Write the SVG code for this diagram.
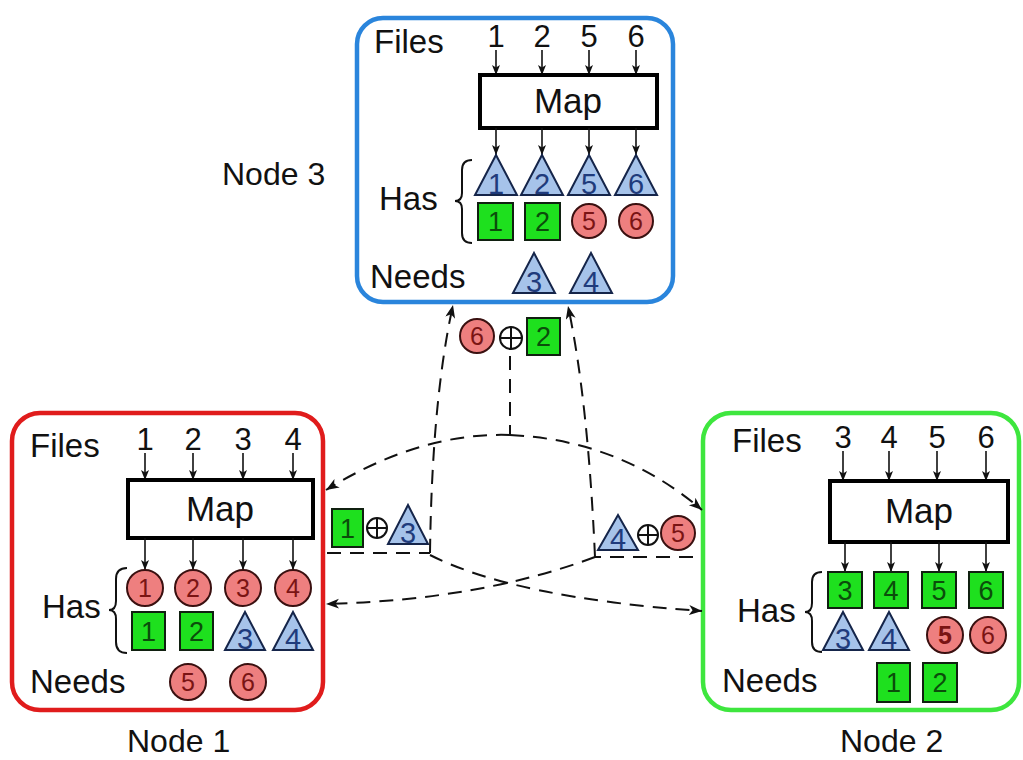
<svg xmlns="http://www.w3.org/2000/svg" width="1023" height="760" viewBox="0 0 1023 760">
  <style>
    text { font-family: "Liberation Sans", Arial, sans-serif; fill: #111; }
    .lbl { font-size: 33px; }
    .num { font-size: 31px; }
    .map { font-size: 35px; text-anchor: middle; }
    .cap { font-size: 32px; }
    .frame { fill: #fff; stroke-width: 4.5; }
    .mapbox { fill: #fff; stroke: #000; stroke-width: 4; }
    .feed { stroke: #111; stroke-width: 1.6; fill: none; marker-end: url(#tip); }
    .brace { stroke: #111; stroke-width: 2; fill: none; }
    .circ { fill: #ee7f7f; stroke: #3a1010; stroke-width: 2; }
    .circ-t { font-size: 25px; text-anchor: middle; fill: #7a1414; }
    .sq { fill: #1ee01e; stroke: #102010; stroke-width: 2; }
    .sq-t { font-size: 27px; text-anchor: middle; fill: #0b4d0b; }
    .tri { fill: #a6c3ea; stroke: #15254a; stroke-width: 2; }
    .tri-t { font-size: 29px; text-anchor: middle; fill: #1f3b7c; }
    .xor { fill: #fff; stroke: #111; stroke-width: 2; }
    .dash { stroke: #111; stroke-width: 2; fill: none; stroke-dasharray: 14 9; }
    .dash-a { stroke: #111; stroke-width: 2; fill: none; stroke-dasharray: 14 9; marker-end: url(#head); }
  </style>
  <defs>
    <marker id="tip" markerUnits="userSpaceOnUse" markerWidth="12" markerHeight="10" refX="10" refY="4" orient="auto">
      <path d="M0,0 L10,4 L0,8 L2.5,4 z" fill="#111" stroke="none"/>
    </marker>
    <marker id="head" markerUnits="userSpaceOnUse" markerWidth="16" markerHeight="12" refX="13" refY="5" orient="auto">
      <path d="M0,0 L13,5 L0,10 L3.5,5 z" fill="#111" stroke="none"/>
    </marker>
  </defs>

  <!-- Node 3 -->
  <g id="node3">
    <rect class="frame" x="357" y="18" width="316" height="284" rx="26" stroke="#2a85dc"/>
    <text class="cap" x="222" y="185">Node 3</text>
    <text class="lbl" x="374" y="53">Files</text>
    <g class="num" text-anchor="middle">
      <text x="496" y="47">1</text><text x="542" y="47">2</text><text x="589" y="47">5</text><text x="636" y="47">6</text>
    </g>
    <line class="feed" x1="496" y1="50" x2="496" y2="75"/>
    <line class="feed" x1="542" y1="50" x2="542" y2="75"/>
    <line class="feed" x1="589" y1="50" x2="589" y2="75"/>
    <line class="feed" x1="636" y1="50" x2="636" y2="75"/>
    <rect class="mapbox" x="480" y="75" width="177" height="53"/>
    <text class="map" x="568" y="113">Map</text>
    <line class="feed" x1="496" y1="128" x2="496" y2="155"/>
    <line class="feed" x1="542" y1="128" x2="542" y2="155"/>
    <line class="feed" x1="589" y1="128" x2="589" y2="155"/>
    <line class="feed" x1="636" y1="128" x2="636" y2="155"/>
    <text class="lbl" x="379" y="210">Has</text>
    <path class="brace" d="M472 160 Q462 160 462 170 L462 193 Q462 201 455 201 Q462 201 462 209 L462 233 Q462 243 472 243"/>
    <polygon class="tri" points="496,155 517,195 475,195"/><text class="tri-t" x="496" y="194">1</text>
    <polygon class="tri" points="542,155 563,195 521,195"/><text class="tri-t" x="542" y="194">2</text>
    <polygon class="tri" points="589,155 610,195 568,195"/><text class="tri-t" x="589" y="194">5</text>
    <polygon class="tri" points="636,155 657,195 615,195"/><text class="tri-t" x="636" y="194">6</text>
    <rect class="sq" x="478" y="203" width="35" height="37"/><text class="sq-t" x="495.5" y="231">1</text>
    <rect class="sq" x="525" y="203" width="35" height="37"/><text class="sq-t" x="542.5" y="231">2</text>
    <circle class="circ" cx="589" cy="221" r="17"/><text class="circ-t" x="589" y="230">5</text>
    <circle class="circ" cx="636" cy="221" r="17"/><text class="circ-t" x="636" y="230">6</text>
    <text class="lbl" x="370" y="288">Needs</text>
    <polygon class="tri" points="534,253 555,293 513,293"/><text class="tri-t" x="534" y="292">3</text>
    <polygon class="tri" points="591,253 612,293 570,293"/><text class="tri-t" x="591" y="292">4</text>
  </g>

  <!-- Node 1 -->
  <g id="node1">
    <rect class="frame" x="12" y="413" width="311" height="297" rx="28" stroke="#e01c1c"/>
    <text class="cap" x="127" y="752">Node 1</text>
    <text class="lbl" x="30" y="457">Files</text>
    <g class="num" text-anchor="middle">
      <text x="145" y="450">1</text><text x="193" y="450">2</text><text x="243" y="450">3</text><text x="293" y="450">4</text>
    </g>
    <line class="feed" x1="145" y1="453" x2="145" y2="480"/>
    <line class="feed" x1="193" y1="453" x2="193" y2="480"/>
    <line class="feed" x1="243" y1="453" x2="243" y2="480"/>
    <line class="feed" x1="293" y1="453" x2="293" y2="480"/>
    <rect class="mapbox" x="128" y="480" width="185" height="58"/>
    <text class="map" x="220" y="521">Map</text>
    <line class="feed" x1="145" y1="538" x2="145" y2="570"/>
    <line class="feed" x1="193" y1="538" x2="193" y2="570"/>
    <line class="feed" x1="243" y1="538" x2="243" y2="570"/>
    <line class="feed" x1="293" y1="538" x2="293" y2="570"/>
    <text class="lbl" x="42" y="618">Has</text>
    <path class="brace" d="M127 568 Q116 568 116 579 L116 601 Q116 610 109 610 Q116 610 116 619 L116 642 Q116 653 127 653"/>
    <circle class="circ" cx="145" cy="588" r="18"/><text class="circ-t" x="145" y="597">1</text>
    <circle class="circ" cx="193" cy="588" r="18"/><text class="circ-t" x="193" y="597">2</text>
    <circle class="circ" cx="243" cy="588" r="18"/><text class="circ-t" x="243" y="597">3</text>
    <circle class="circ" cx="293" cy="588" r="18"/><text class="circ-t" x="293" y="597">4</text>
    <rect class="sq" x="132" y="612" width="33" height="38"/><text class="sq-t" x="148.5" y="641">1</text>
    <rect class="sq" x="180" y="612" width="33" height="38"/><text class="sq-t" x="196.5" y="641">2</text>
    <polygon class="tri" points="245,612 265,650 225,650"/><text class="tri-t" x="245" y="649">3</text>
    <polygon class="tri" points="293,612 313,650 273,650"/><text class="tri-t" x="293" y="649">4</text>
    <text class="lbl" x="30" y="693">Needs</text>
    <circle class="circ" cx="188" cy="682" r="18"/><text class="circ-t" x="188" y="691">5</text>
    <circle class="circ" cx="248" cy="682" r="18"/><text class="circ-t" x="248" y="691">6</text>
  </g>

  <!-- Node 2 -->
  <g id="node2">
    <rect class="frame" x="703" y="413" width="316" height="297" rx="28" stroke="#3ee63e"/>
    <text class="cap" x="840" y="752">Node 2</text>
    <text class="lbl" x="732" y="452">Files</text>
    <g class="num" text-anchor="middle">
      <text x="843" y="448">3</text><text x="889" y="448">4</text><text x="937" y="448">5</text><text x="986" y="448">6</text>
    </g>
    <line class="feed" x1="843" y1="451" x2="843" y2="481"/>
    <line class="feed" x1="889" y1="451" x2="889" y2="481"/>
    <line class="feed" x1="937" y1="451" x2="937" y2="481"/>
    <line class="feed" x1="986" y1="451" x2="986" y2="481"/>
    <rect class="mapbox" x="830" y="481" width="178" height="61"/>
    <text class="map" x="919" y="523">Map</text>
    <line class="feed" x1="845" y1="542" x2="845" y2="572"/>
    <line class="feed" x1="891" y1="542" x2="891" y2="572"/>
    <line class="feed" x1="939" y1="542" x2="939" y2="572"/>
    <line class="feed" x1="986" y1="542" x2="986" y2="572"/>
    <text class="lbl" x="737" y="622">Has</text>
    <path class="brace" d="M822 572 Q812 572 812 582 L812 603 Q812 612 805 612 Q812 612 812 621 L812 642 Q812 652 822 652"/>
    <rect class="sq" x="828" y="572" width="34" height="36"/><text class="sq-t" x="845" y="600">3</text>
    <rect class="sq" x="874" y="572" width="34" height="36"/><text class="sq-t" x="891" y="600">4</text>
    <rect class="sq" x="922" y="572" width="34" height="36"/><text class="sq-t" x="939" y="600">5</text>
    <rect class="sq" x="969" y="572" width="34" height="36"/><text class="sq-t" x="986" y="600">6</text>
    <polygon class="tri" points="843,612 863,650 823,650"/><text class="tri-t" x="843" y="649">3</text>
    <polygon class="tri" points="889,612 909,650 869,650"/><text class="tri-t" x="889" y="649">4</text>
    <circle class="circ" cx="945" cy="635" r="18"/><text class="circ-t" x="945" y="644" font-weight="bold">5</text>
    <circle class="circ" cx="988" cy="635" r="18"/><text class="circ-t" x="988" y="644">6</text>
    <text class="lbl" x="722" y="692">Needs</text>
    <rect class="sq" x="877" y="663" width="33" height="39"/><text class="sq-t" x="893.5" y="692">1</text>
    <rect class="sq" x="923" y="663" width="34" height="39"/><text class="sq-t" x="940" y="692">2</text>
  </g>

  <!-- Coded packets sent between nodes -->
  <g id="packet3">
    <circle class="circ" cx="477" cy="336" r="17"/><text class="circ-t" x="477" y="345">6</text>
    <circle class="xor" cx="511" cy="338" r="11"/>
    <path d="M500 338 H522 M511 327 V349" stroke="#111" stroke-width="2"/>
    <rect class="sq" x="527" y="318" width="33" height="37"/><text class="sq-t" x="543.5" y="346">2</text>
  </g>
  <g id="packet1">
    <rect class="sq" x="332" y="509" width="31" height="38"/><text class="sq-t" x="347.5" y="538">1</text>
    <circle class="xor" cx="377" cy="528" r="10"/>
    <path d="M367 528 H387 M377 518 V538" stroke="#111" stroke-width="2"/>
    <polygon class="tri" points="408,505 428,544 388,544"/><text class="tri-t" x="408" y="543">3</text>
  </g>
  <g id="packet2">
    <polygon class="tri" points="618,515 638,550 598,550"/><text class="tri-t" x="618" y="549">4</text>
    <circle class="xor" cx="648" cy="535" r="10"/>
    <path d="M638 535 H658 M648 525 V545" stroke="#111" stroke-width="2"/>
    <circle class="circ" cx="678" cy="533" r="17"/><text class="circ-t" x="678" y="542">5</text>
  </g>

  <!-- Dashed broadcast connectors -->
  <g id="connectors">
    <path class="dash" d="M510 356 V435"/>
    <path class="dash-a" d="M510 435 Q420 432 326 490"/>
    <path class="dash-a" d="M510 435 Q620 440 702 510"/>
    <path class="dash" d="M327 553 H430"/>
    <path class="dash-a" d="M430 553 Q432 400 453 305"/>
    <path class="dash-a" d="M430 555 Q515 598 702 611"/>
    <path class="dash" d="M693 557 H595"/>
    <path class="dash-a" d="M595 557 Q588 400 568 306"/>
    <path class="dash-a" d="M595 557 Q480 600 326 604"/>
  </g>
</svg>
